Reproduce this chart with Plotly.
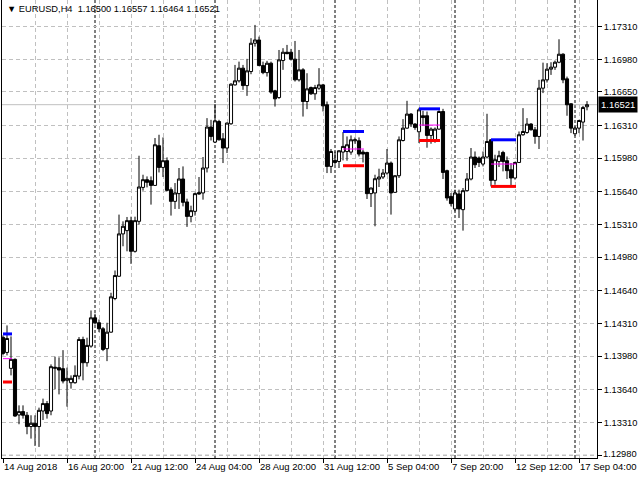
import plotly.graph_objects as go

# EURUSD H4 bars, 14 Aug 2018 04:00 .. 17 Sep 2018 12:00
opens = [1.14169, 1.14017, 1.13856, 1.13947, 1.13385, 1.13419, 1.13382, 1.13268, 1.13301, 1.13268,
         1.13425, 1.13500, 1.13425, 1.13856, 1.13863, 1.13853, 1.13735, 1.13711, 1.13711, 1.13778,
         1.14148, 1.13913, 1.14081, 1.14367, 1.14317, 1.14256, 1.14055, 1.14222, 1.14562, 1.14787,
         1.15215, 1.15248, 1.15349, 1.15039, 1.15342, 1.15685, 1.15763, 1.15753, 1.15705, 1.16106,
         1.15887, 1.15955, 1.15662, 1.15544, 1.15622, 1.15770, 1.15538, 1.15392, 1.15443, 1.15632,
         1.15629, 1.15881, 1.16295, 1.16143, 1.16351, 1.16176, 1.16083, 1.16328, 1.16721, 1.16762,
         1.16890, 1.16714, 1.16856, 1.17142, 1.17175, 1.16916, 1.16845, 1.16940, 1.16661, 1.16593,
         1.16967, 1.17051, 1.17051, 1.16981, 1.16772, 1.16873, 1.16553, 1.16694, 1.16631, 1.16688,
         1.16721, 1.16520, 1.15897, 1.15958, 1.15947, 1.16042, 1.16048, 1.16042, 1.16156, 1.16156,
         1.16042, 1.16038, 1.15622, 1.15629, 1.15770, 1.15790, 1.15830, 1.15931, 1.15635, 1.15803,
         1.16159, 1.16284, 1.16426, 1.16325, 1.16247, 1.16409, 1.16409, 1.16210, 1.16159, 1.16274,
         1.16452, 1.15854, 1.15594, 1.15467, 1.15619, 1.15460, 1.15652, 1.15770, 1.15992, 1.15982,
         1.15921, 1.15992, 1.16166, 1.15756, 1.15947, 1.16038, 1.15955, 1.15864, 1.15780, 1.15937,
         1.16217, 1.16240, 1.16325, 1.16267, 1.16200, 1.16688, 1.16772, 1.16880, 1.16900, 1.16950,
         1.17031, 1.16782, 1.16530, 1.16227, 1.16284, 1.16345, 1.16500]
highs = [1.14189, 1.14290, 1.14179, 1.13957, 1.13482, 1.13482, 1.13415, 1.13382, 1.13382, 1.13459,
         1.13550, 1.13526, 1.13896, 1.13974, 1.13967, 1.14040, 1.13863, 1.13785, 1.13886, 1.14172,
         1.14176, 1.14166, 1.14441, 1.14408, 1.14350, 1.14273, 1.14317, 1.14620, 1.14845, 1.15410,
         1.15342, 1.15386, 1.15389, 1.15389, 1.16005, 1.15813, 1.15796, 1.15796, 1.16184, 1.16217,
         1.16190, 1.15988, 1.15685, 1.15729, 1.15881, 1.15897, 1.15571, 1.15500, 1.15632, 1.15790,
         1.15992, 1.16385, 1.16368, 1.16527, 1.16368, 1.16234, 1.16341, 1.16738, 1.16923, 1.16956,
         1.16923, 1.16984, 1.17193, 1.17327, 1.17209, 1.16956, 1.16964, 1.16956, 1.16671, 1.17074,
         1.17092, 1.17125, 1.17085, 1.17165, 1.17074, 1.16890, 1.16839, 1.16704, 1.16721, 1.16890,
         1.16731, 1.16553, 1.16073, 1.16048, 1.16060, 1.16244, 1.16200, 1.16210, 1.16190, 1.16190,
         1.16065, 1.16045, 1.15682, 1.15813, 1.15874, 1.15871, 1.16073, 1.15947, 1.15808, 1.16200,
         1.16375, 1.16560, 1.16436, 1.16335, 1.16489, 1.16459, 1.16452, 1.16291, 1.16291, 1.16464,
         1.16479, 1.15864, 1.15629, 1.15662, 1.15662, 1.15679, 1.15830, 1.16083, 1.16048, 1.15998,
         1.16048, 1.16429, 1.16173, 1.16015, 1.16055, 1.16055, 1.15998, 1.15931, 1.15944, 1.16250,
         1.16486, 1.16385, 1.16335, 1.16295, 1.16772, 1.16946, 1.16940, 1.16950, 1.16967, 1.17182,
         1.17041, 1.16805, 1.16535, 1.16301, 1.16368, 1.16509, 1.16557]
lows = [1.13987, 1.13987, 1.13785, 1.13366, 1.13291, 1.13348, 1.13190, 1.13146, 1.13072, 1.13062,
        1.13334, 1.13348, 1.13382, 1.13644, 1.13593, 1.13704, 1.13469, 1.13651, 1.13701, 1.13745,
        1.13735, 1.13873, 1.14065, 1.14300, 1.14222, 1.14030, 1.13929, 1.14216, 1.14545, 1.14781,
        1.15090, 1.15039, 1.14912, 1.15026, 1.15309, 1.15652, 1.15685, 1.15511, 1.15702, 1.15836,
        1.15790, 1.15645, 1.15400, 1.15467, 1.15467, 1.15493, 1.15286, 1.15332, 1.15400, 1.15611,
        1.15561, 1.15836, 1.16159, 1.16133, 1.16159, 1.15931, 1.16032, 1.16318, 1.16714, 1.16745,
        1.16671, 1.16610, 1.16829, 1.17108, 1.16913, 1.16829, 1.16805, 1.16631, 1.16502, 1.16580,
        1.16873, 1.17031, 1.16967, 1.16755, 1.16755, 1.16401, 1.16476, 1.16620, 1.16570, 1.16671,
        1.16452, 1.15830, 1.15830, 1.15914, 1.15881, 1.15958, 1.15955, 1.16015, 1.16126, 1.15998,
        1.15937, 1.15568, 1.15487, 1.15292, 1.15689, 1.15770, 1.15813, 1.15410, 1.15629, 1.15780,
        1.16149, 1.16277, 1.16295, 1.16267, 1.16133, 1.16308, 1.16086, 1.16126, 1.16136, 1.16267,
        1.15770, 1.15551, 1.15493, 1.15443, 1.15376, 1.15248, 1.15645, 1.15756, 1.15881, 1.15891,
        1.15897, 1.15982, 1.15695, 1.15712, 1.15891, 1.15847, 1.15770, 1.15695, 1.15763, 1.15931,
        1.16207, 1.16227, 1.16260, 1.16126, 1.16073, 1.16638, 1.16745, 1.16822, 1.16873, 1.16940,
        1.16738, 1.16409, 1.16234, 1.16207, 1.16234, 1.16159, 1.16464]
closes = [1.14007, 1.14158, 1.13947, 1.13374, 1.13419, 1.13382, 1.13268, 1.13301, 1.13268, 1.13432,
          1.13500, 1.13399, 1.13873, 1.13866, 1.13839, 1.13728, 1.13755, 1.13755, 1.13785, 1.14148,
          1.13913, 1.14088, 1.14367, 1.14317, 1.14256, 1.14047, 1.14222, 1.14579, 1.14794, 1.15215,
          1.15292, 1.15349, 1.15039, 1.15349, 1.15689, 1.15763, 1.15736, 1.15705, 1.16116, 1.15887,
          1.15955, 1.15655, 1.15544, 1.15629, 1.15770, 1.15534, 1.15392, 1.15450, 1.15622, 1.15619,
          1.15881, 1.16295, 1.16200, 1.16358, 1.16166, 1.16083, 1.16335, 1.16728, 1.16762, 1.16890,
          1.16714, 1.16863, 1.17142, 1.17175, 1.16916, 1.16845, 1.16940, 1.16648, 1.16580, 1.16974,
          1.17051, 1.17037, 1.16981, 1.16772, 1.16873, 1.16553, 1.16681, 1.16631, 1.16694, 1.16721,
          1.16509, 1.15897, 1.16048, 1.15937, 1.16055, 1.16099, 1.16116, 1.16166, 1.16166, 1.16022,
          1.16022, 1.15622, 1.15679, 1.15773, 1.15790, 1.15830, 1.15931, 1.15629, 1.15803, 1.16166,
          1.16284, 1.16426, 1.16325, 1.16291, 1.16469, 1.16391, 1.16210, 1.16274, 1.16274, 1.16452,
          1.15836, 1.15578, 1.15521, 1.15629, 1.15467, 1.15652, 1.15770, 1.15992, 1.15914, 1.15937,
          1.15992, 1.16149, 1.15756, 1.15965, 1.16005, 1.15947, 1.15854, 1.15780, 1.15937, 1.16217,
          1.16250, 1.16325, 1.16267, 1.16200, 1.16688, 1.16772, 1.16880, 1.16900, 1.16950, 1.17031,
          1.16772, 1.16520, 1.16284, 1.16284, 1.16361, 1.16492, 1.16521]

# time axis labels (bar index -> text)
tick_bars = [0, 16, 32, 48, 64, 80, 96, 112, 128, 144]
tick_labels = ['14 Aug 2018', '16 Aug 20:00', '21 Aug 12:00', '24 Aug 04:00', '28 Aug 20:00',
               '31 Aug 12:00', '5 Sep 04:00', '7 Sep 20:00', '12 Sep 12:00', '17 Sep 04:00']
grid_bars = [8, 24, 40, 56, 72, 88, 104, 120, 136]
week_start_bars = [23, 53, 83, 113, 143]

# price scale labels
price_ticks = [1.17310, 1.16980, 1.16650, 1.16310, 1.15980, 1.15640, 1.15310,
               1.14980, 1.14640, 1.14310, 1.13980, 1.13640, 1.13310, 1.12980]
last_price = 1.16521
y_min, y_max = 1.12950, 1.17579

# session range indicator (high / middle / low levels)
range_start = [0, 85, 104, 122]
range_end = [2.25, 90.25, 109.25, 128.25]
range_high = [1.14204, 1.16250, 1.16479, 1.16166]
range_mid = [1.13954, 1.16073, 1.16315, 1.15921]
range_low = [1.13718, 1.15904, 1.16159, 1.15695]

bars = list(range(len(opens)))
font = 'Liberation Sans'
grid = '#c0c0c0'

fig = go.Figure()
fig.add_trace(go.Candlestick(
    x=bars, open=opens, high=highs, low=lows, close=closes,
    increasing=dict(fillcolor='white', line=dict(color='black', width=1)),
    decreasing=dict(fillcolor='black', line=dict(color='black', width=1)),
    whiskerwidth=0, hoverinfo='skip'))

for i in range(len(range_start)):
    xs = [range_start[i], range_end[i]]
    fig.add_trace(go.Scatter(x=xs, y=[range_high[i]] * 2, mode='lines',
                             line=dict(color='#0000ff', width=3), hoverinfo='skip'))
    fig.add_trace(go.Scatter(x=xs, y=[range_mid[i]] * 2, mode='lines',
                             line=dict(color='#ff00ff', width=1), hoverinfo='skip'))
    fig.add_trace(go.Scatter(x=xs, y=[range_low[i]] * 2, mode='lines',
                             line=dict(color='#ff0000', width=3), hoverinfo='skip'))

# weekly separators
for b in week_start_bars:
    fig.add_shape(type='line', xref='x', yref='paper', x0=b, x1=b, y0=0, y1=1,
                  line=dict(color='black', width=1, dash='3px,2px'), layer='below')

# current bid line
fig.add_shape(type='line', xref='paper', yref='y', x0=0, x1=1, y0=last_price, y1=last_price,
              line=dict(color=grid, width=1), layer='below')
fig.add_annotation(xref='paper', yref='y', x=1, y=last_price, xanchor='left', yanchor='middle',
                   text=f'{last_price:.5f}', showarrow=False, bgcolor='black', borderpad=2,
                   font=dict(family=font, size=9.5, color='white'), xshift=1)

# lowest price label, drawn by hand: plotly's own label in the corner did not show up
low_tick = price_ticks[-1]
low_frac = (low_tick - y_min) / (y_max - y_min)
fig.add_shape(type='line', xref='paper', yref='paper', x0=0, x1=1, y0=low_frac, y1=low_frac,
              line=dict(color=grid, width=1, dash='4px,3px'), layer='below')
fig.add_annotation(xref='paper', yref='paper', x=1, y=0, xanchor='left', yanchor='bottom',
                   text=f'{low_tick:.5f}', showarrow=False, xshift=4, yshift=-3,
                   font=dict(family=font, size=9.3, color='black'))

fig.add_annotation(xref='paper', yref='paper', x=0, y=1, xanchor='left', yanchor='top',
                   xshift=3, yshift=-2, showarrow=False,
                   text='\u25bc EURUSD,H4\u00a0\u00a0' + ' '.join(
                       f'{v:.5f}' for v in (opens[-1], highs[-1], lows[-1], closes[-1])),
                   font=dict(family=font, size=9.3, color='black'))

fig.update_layout(
    width=640, height=480,
    margin=dict(l=2, r=43, t=0, b=22, autoexpand=False),
    paper_bgcolor='white', plot_bgcolor='white',
    showlegend=False,
    boxgap=0.12, boxgroupgap=0.12,
    font=dict(family=font, size=10, color='black'),
    xaxis=dict(range=[-0.25, 148.5], rangeslider=dict(visible=False),
               tickmode='array', tickvals=tick_bars, ticktext=tick_labels,
               tickangle=0, automargin=False, tickfont=dict(size=9.5),
               ticks='outside', ticklen=4, tickcolor='black',
               ticklabelposition='outside right', ticklabeloverflow='allow',
               showline=True, linecolor='black', linewidth=1,
               showgrid=True, gridcolor=grid, griddash='4px,3px', gridwidth=1,
               minor=dict(tickmode='array', tickvals=grid_bars, showgrid=True,
                          gridcolor=grid, griddash='4px,3px', ticks=''),
               zeroline=False, fixedrange=True),
    yaxis=dict(side='right', range=[y_min, y_max], automargin=False,
               tickmode='array', tickvals=price_ticks,
               ticktext=[f'{v:.5f}' for v in price_ticks[:-1]] + [''],
               tickfont=dict(size=9.3), ticklabeloverflow='allow',
               ticks='outside', ticklen=4, tickcolor='black',
               showline=True, mirror=True, linecolor='black', linewidth=1,
               showgrid=True, gridcolor=grid, griddash='4px,3px', gridwidth=1,
               zeroline=False, fixedrange=True),
)

# the page body has a default 8px margin; drop it so the chart sits at the window corner
fig.write_html('out.html', config={'displayModeBar': False},
               post_script="document.body.style.margin = '0';")
